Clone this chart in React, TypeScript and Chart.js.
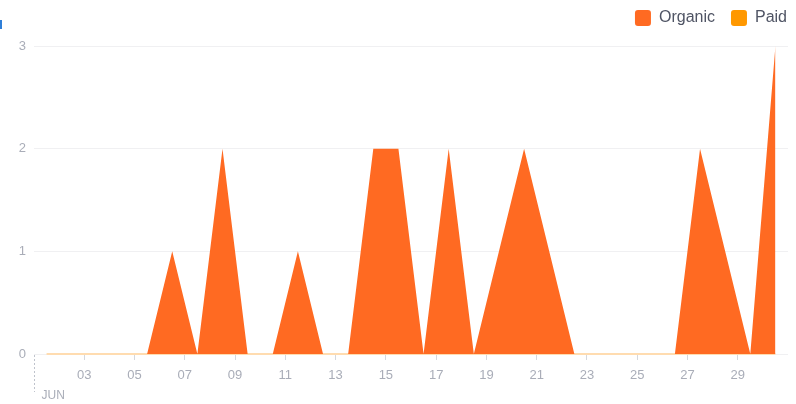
import React, { useEffect, useRef } from "react";
import { Chart, registerables } from "chart.js";

Chart.register(...registerables);

const days = [1, 2, 3, 4, 5, 6, 7, 8, 9, 10, 11, 12, 13, 14, 15, 16, 17, 18, 19, 20, 21, 22, 23, 24, 25, 26, 27, 28, 29, 30];
const organic = [0, 0, 0, 0, 0, 1, 0, 2, 0, 0, 1, 0, 0, 2, 2, 0, 2, 0, 1, 2, 1, 0, 0, 0, 0, 0, 2, 1, 0, 3];
const paid = [0, 0, 0, 0, 0, 0, 0, 0, 0, 0, 0, 0, 0, 0, 0, 0, 0, 0, 0, 0, 0, 0, 0, 0, 0, 0, 0, 0, 0, 0];
const seriesNames = ["Organic", "Paid"];
const seriesColors = ["#ff6a22", "#ff9800"];
const xTickDays = [3, 5, 7, 9, 11, 13, 15, 17, 19, 21, 23, 25, 27, 29];
const yTicks = [0, 1, 2, 3];
const monthLabel = "JUN";
const monthStartDay = 1;
const monthEndDay = 31;

const FONT = "'Liberation Sans', Arial, sans-serif";

const monthPlugin = {
  id: "monthMarker",
  afterDraw(chart: any) {
    const { ctx, chartArea, scales } = chart;
    const x = Math.round(scales.x.getPixelForValue(monthStartDay)) + 0.5;
    ctx.save();
    ctx.strokeStyle = "#bfc3cc";
    ctx.lineWidth = 1;
    ctx.setLineDash([2, 2]);
    ctx.beginPath();
    ctx.moveTo(x, chartArea.bottom + 1);
    ctx.lineTo(x, chartArea.bottom + 38);
    ctx.stroke();
    ctx.setLineDash([]);
    ctx.fillStyle = "#a9adb8";
    ctx.font = "12px " + FONT;
    ctx.textBaseline = "middle";
    ctx.textAlign = "left";
    ctx.fillText(monthLabel, x + 7, chartArea.bottom + 42);
    ctx.restore();
  },
};

const legendPlugin = {
  id: "legendTweak",
  beforeInit(chart: any) {
    const orig = chart.legend.fit;
    chart.legend.fit = function () {
      orig.call(this);
      this.height = 46;
    };
  },
  afterLayout(chart: any) {
    const lg = chart.legend;
    lg.top -= 6;
    lg.bottom -= 6;
    lg.left += 15;
    lg.right += 15;
  },
};

export default function App() {
  const ref = useRef<HTMLCanvasElement>(null);
  useEffect(() => {
    const canvas = ref.current!;
    const chart = new Chart(canvas, {
      type: "line",
      data: {
        datasets: [
          {
            label: seriesNames[0],
            data: days.map((d, i) => ({ x: d + 0.5, y: organic[i] })),
            backgroundColor: seriesColors[0],
            borderColor: seriesColors[0],
            borderWidth: 0,
            fill: "origin",
            pointRadius: 0,
            tension: 0,
          },
          {
            label: seriesNames[1],
            data: days.map((d, i) => ({ x: d + 0.5, y: paid[i] })),
            backgroundColor: seriesColors[1],
            borderColor: "#ffdcb0",
            borderWidth: 2,
            fill: "origin",
            pointRadius: 0,
            tension: 0,
            clip: 4,
          },
        ],
      },
      options: {
        animation: false,
        responsive: false,
        maintainAspectRatio: false,
        layout: { padding: { left: 0, right: 8, top: 0, bottom: 0 } },
        plugins: {
          tooltip: { enabled: false },
          legend: {
            position: "top",
            align: "end",
            labels: {
              boxWidth: 16,
              boxHeight: 16,
              useBorderRadius: true,
              borderRadius: 3,
              color: "#4f5464",
              font: { size: 16, family: FONT },
              padding: 16,
              generateLabels: (c: any) =>
                c.data.datasets.map((ds: any, i: number) => ({
                  text: ds.label,
                  fillStyle: seriesColors[i],
                  strokeStyle: seriesColors[i],
                  lineWidth: 0,
                  hidden: false,
                  datasetIndex: i,
                  borderRadius: 3,
                  fontColor: "#4f5464",
                })),
            },
          },
        },
        scales: {
          x: {
            type: "linear",
            min: monthStartDay,
            max: monthEndDay,
            afterBuildTicks: (s: any) => {
              s.ticks = xTickDays.map((v) => ({ value: v }));
            },
            afterFit: (s: any) => {
              s.height = 50;
            },
            ticks: {
              autoSkip: false,
              maxRotation: 0,
              color: "#a9adb8",
              font: { size: 13, family: FONT },
              padding: 8,
              callback: (v: any) => String(v).padStart(2, "0"),
            },
            grid: {
              drawOnChartArea: false,
              drawTicks: true,
              tickLength: 6,
              tickColor: "#d5d8de",
            },
            border: { display: false },
          },
          y: {
            min: 0,
            max: 3,
            afterBuildTicks: (s: any) => {
              s.ticks = yTicks.map((v) => ({ value: v }));
            },
            afterFit: (s: any) => {
              s.width = 34;
            },
            ticks: {
              color: "#a9adb8",
              font: { size: 13, family: FONT },
              padding: 8,
            },
            grid: { color: "#f0f0f2", drawTicks: false },
            border: { display: false },
          },
        },
      },
      plugins: [legendPlugin, monthPlugin],
    } as any);
    return () => chart.destroy();
  }, []);
  return (
    <div style={{ position: "fixed", left: 0, top: 0, width: 796, height: 404, background: "#fff" }}>
      <div style={{ position: "absolute", left: 0, top: 20, width: 2, height: 9, background: "#2f7fd8" }} />
      <canvas ref={ref} width={796} height={404} style={{ display: "block", width: 796, height: 404 }} />
    </div>
  );
}
